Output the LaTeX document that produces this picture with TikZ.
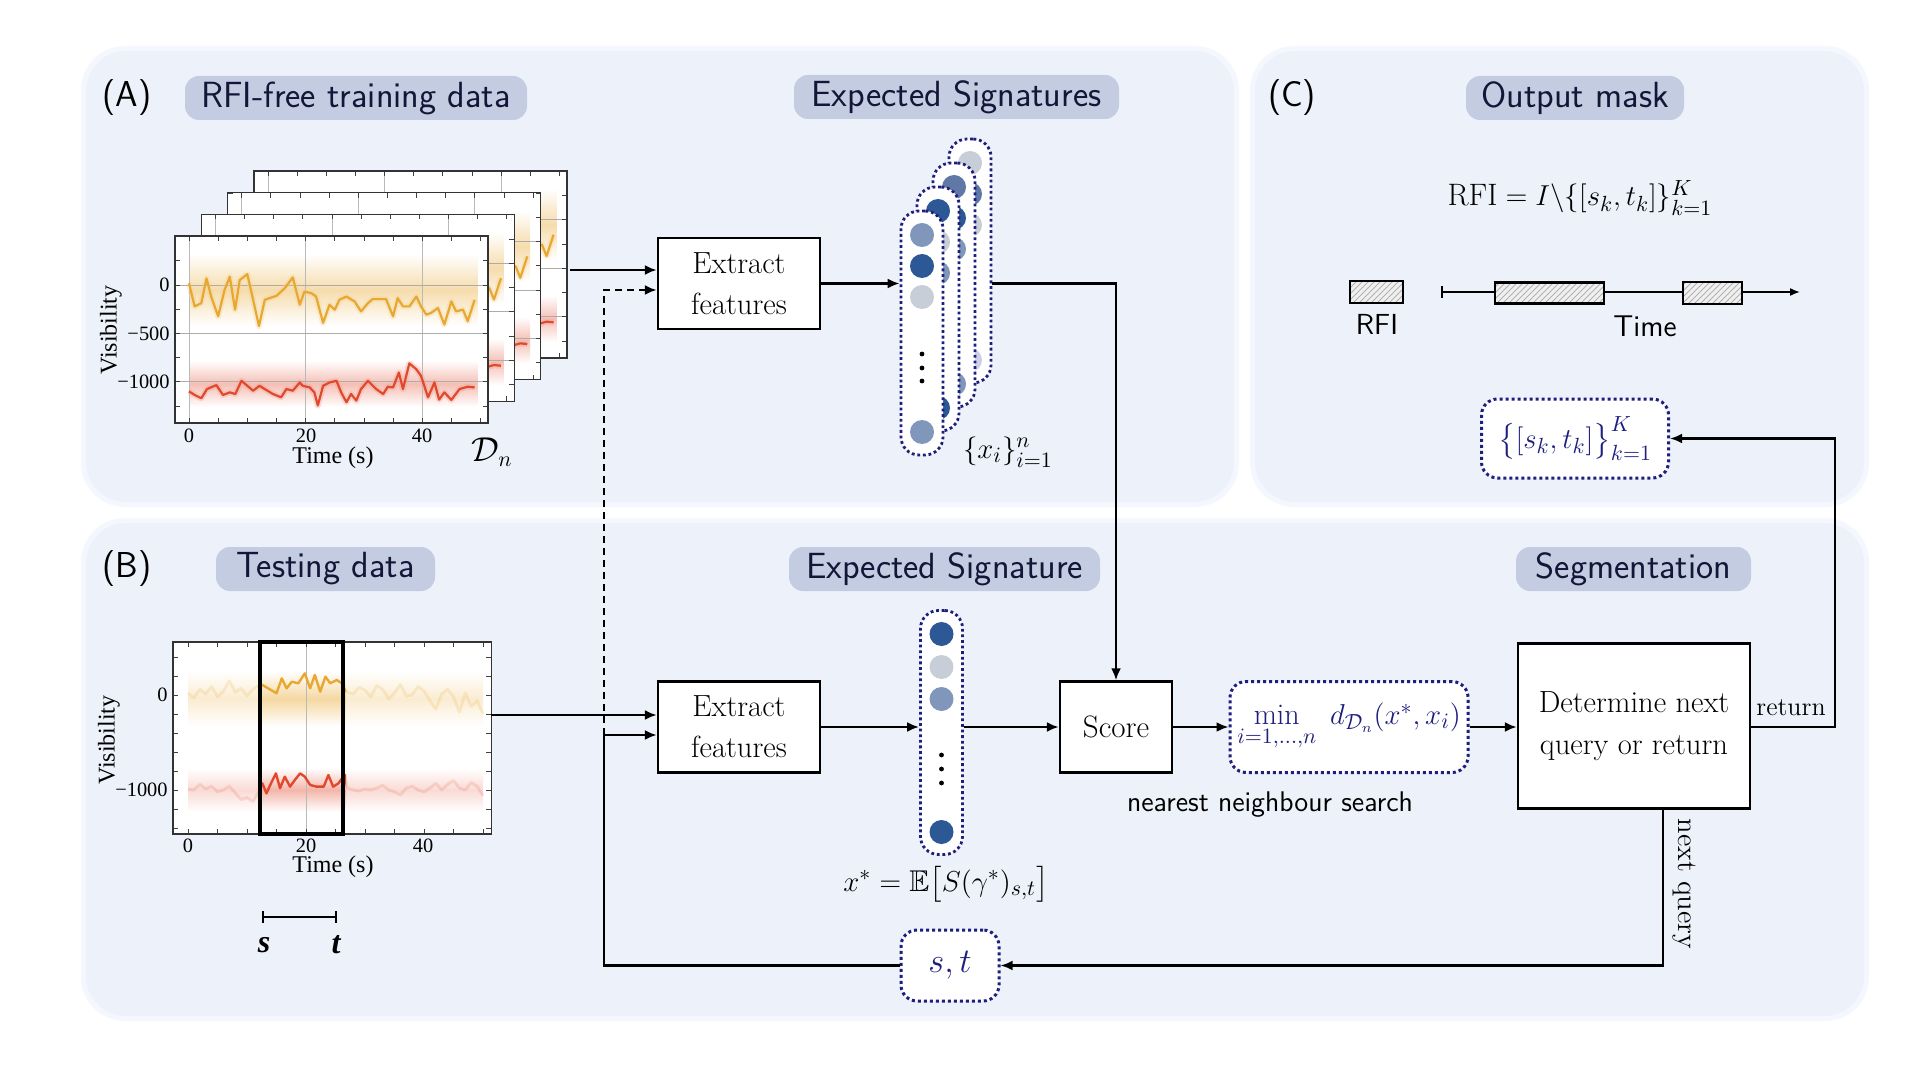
\documentclass[tikz,border=0pt]{standalone}
\usepackage{amsmath,amssymb}
\usepackage{fontspec}
\newfontfamily\tmsf{Liberation Serif}
\usetikzlibrary{arrows.meta,patterns,calc}
\definecolor{panelbg}{RGB}{237,241,250}
\definecolor{panelhalo}{RGB}{244,247,253}
\definecolor{pillbg}{RGB}{196,204,226}
\definecolor{pilltxt}{RGB}{18,22,55}
\definecolor{navy}{RGB}{30,30,125}
\definecolor{dkblue}{RGB}{45,88,150}
\definecolor{mdblue}{RGB}{128,150,186}
\definecolor{mdblueb}{RGB}{95,120,165}
\definecolor{ltgray}{RGB}{200,206,216}
\definecolor{lav}{RGB}{205,208,232}
\definecolor{ylw}{RGB}{232,168,48}
\definecolor{rd}{RGB}{226,72,44}
\tikzset{
  panel/.style={fill=panelbg, rounded corners=20pt},
  halo/.style={fill=panelhalo, rounded corners=22pt},
  pill/.style={fill=pillbg, rounded corners=7pt, text=pilltxt, font=\sffamily\fontsize{18.2}{21}\selectfont, minimum height=22pt, inner sep=0pt},
  plab/.style={font=\sffamily\fontsize{18}{21}\selectfont, text=black},
  box/.style={draw=black, line width=1.2pt, fill=white, align=center, font=\fontsize{15.3}{20.5}\selectfont, inner sep=0pt},
  dbox/.style={draw=navy, line width=1.5pt, dash pattern=on 1.5pt off 1.5pt, fill=white, rounded corners=8pt, text=navy, inner sep=0pt, font=\fontsize{15}{18}\selectfont},
  sigpill/.style={draw=navy, line width=1.4pt, dash pattern=on 1.4pt off 1.4pt, fill=white, rounded corners=9pt, minimum width=21pt, minimum height=122pt, inner sep=0pt},
  conn/.style={line width=1.2pt, draw=black},
  arr/.style={conn, -{Latex[length=6pt,width=5pt]}},
  darr/.style={arr, dash pattern=on 3.5pt off 2.5pt},
  tick/.style={font=\tmsf\fontsize{10.2}{12}\selectfont, inner sep=1pt},
  alab/.style={font=\tmsf\fontsize{12}{14}\selectfont, inner sep=1pt},
  dot/.style={circle, inner sep=0pt, minimum size=12pt},
  hatch/.style={draw=black, line width=1.2pt, preaction={fill=gray!12}, pattern=north east lines, pattern color=gray!60, inner sep=0pt},
  tk/.style={line width=0.4pt, draw=gray!50!black},
}
\begin{document}
\begin{tikzpicture}[x=0.5pt,y=-0.5pt]
\useasboundingbox (0,0) rectangle (1920,1080);
\fill[white] (0,0) rectangle (1920,1080);

% ---------- panels ----------
\fill[halo] (81,46) rectangle (1239,507);
\fill[halo] (1250,46) rectangle (1869,507);
\fill[halo] (81,518) rectangle (1869,1021);
\fill[panel] (86,51) rectangle (1234,502);
\fill[panel] (1255,51) rectangle (1864,502);
\fill[panel] (86,523) rectangle (1864,1016);

% ---------- headers ----------
\node[plab] (labA) at (127,98) {(A)};
\node[plab] (labB) at (127,569) {(B)};
\node[plab] (labC) at (1292,98) {(C)};
\node[pill, minimum width=171pt] (hA) at (356,98) {RFI-free training data};
\node[pill, minimum width=162.5pt] (hSig) at (956.5,97) {Expected Signatures};
\node[pill, minimum width=109pt] (hC) at (1575,98) {Output mask};
\node[pill, minimum width=109.5pt] (hB) at (325.5,569) {Testing data};
\node[pill, minimum width=155.5pt] (hSig2) at (944.5,569) {Expected Signature};
\node[pill, minimum width=117.5pt] (hSeg) at (1633.5,569) {Segmentation};

% ---------- chart stack (A) ----------
\foreach \k in {3,2,1,0}{
 \begin{scope}[shift={(26.3*\k,-21.7*\k)}]
 \begin{scope}[shift={(189,285)}, x=2.915pt, y=0.0484pt]
  \fill[white] (-2.4,506) rectangle (51.3,-1426);
  \begin{scope}
   \clip (-2.4,506) rectangle (51.3,-1426);
   \shade[top color=white, bottom color=white, middle color=ylw!40] (0,320) rectangle (49.5,-420);
   \shade[top color=white, bottom color=white, middle color=rd!35] (0,-780) rectangle (49.5,-1260);
   \foreach \g in {0,20,40} \draw[gray!55, line width=0.4pt] (\g,506) -- (\g,-1426);
   \foreach \g in {0,-500,-1000} \draw[gray!65, line width=0.4pt] (-2.4,\g) -- (51.3,\g);
   \draw[ylw!50, line width=3pt, opacity=0.35, line join=round] plot coordinates {(0,17) (0.97,-221) (2.11,-187) (3.0,68) (3.8,-119) (5.0,-323) (6.1,-51) (7.0,85) (7.9,-255) (8.7,51) (10.0,112) (11.0,-153) (12.0,-425) (13.0,-153) (13.8,-136) (15.0,-112) (16.4,-34) (17.8,78) (19.0,-204) (19.8,-68) (21.0,-85) (21.8,-119) (23.0,-391) (24.1,-204) (25.0,-255) (25.8,-153) (27.0,-119) (28.4,-170) (29.5,-272) (30.7,-187) (31.5,-146) (33.0,-146) (33.8,-146) (35.0,-323) (35.8,-136) (36.7,-221) (37.8,-221) (39.0,-119) (39.8,-221) (40.7,-306) (41.5,-289) (42.7,-238) (43.8,-408) (45.0,-170) (45.8,-272) (47.0,-255) (47.8,-374) (49.0,-153)};
   \draw[ylw, line width=1.1pt, line join=round] plot coordinates {(0,17) (0.97,-221) (2.11,-187) (3.0,68) (3.8,-119) (5.0,-323) (6.1,-51) (7.0,85) (7.9,-255) (8.7,51) (10.0,112) (11.0,-153) (12.0,-425) (13.0,-153) (13.8,-136) (15.0,-112) (16.4,-34) (17.8,78) (19.0,-204) (19.8,-68) (21.0,-85) (21.8,-119) (23.0,-391) (24.1,-204) (25.0,-255) (25.8,-153) (27.0,-119) (28.4,-170) (29.5,-272) (30.7,-187) (31.5,-146) (33.0,-146) (33.8,-146) (35.0,-323) (35.8,-136) (36.7,-221) (37.8,-221) (39.0,-119) (39.8,-221) (40.7,-306) (41.5,-289) (42.7,-238) (43.8,-408) (45.0,-170) (45.8,-272) (47.0,-255) (47.8,-374) (49.0,-153)};
   \draw[rd!50, line width=3pt, opacity=0.35, line join=round] plot coordinates {(0,-1099) (0.97,-1136) (2.11,-1170) (3.09,-1075) (4.69,-1034) (5.83,-1136) (7.0,-1109) (7.94,-1126) (9.0,-990) (10.0,-1041) (11.0,-1092) (12.1,-1041) (13.0,-1075) (14.4,-1126) (15.8,-1160) (16.7,-1075) (17.8,-1092) (19.0,-1007) (19.5,-1041) (20.7,-1058) (21.5,-1109) (22.1,-1245) (23.0,-1041) (24.1,-1007) (25.3,-990) (26.1,-1109) (27.0,-1211) (27.8,-1126) (28.7,-1194) (29.5,-1075) (30.7,-990) (32.1,-1075) (33.3,-1126) (34.1,-1051) (35.0,-1058) (36.0,-905) (36.7,-1075) (37.8,-810) (39.0,-871) (39.8,-939) (41.0,-1160) (42.1,-1007) (42.9,-1184) (43.8,-1109) (45.0,-1187) (46.4,-1075) (47.8,-1051) (49.0,-1058)};
   \draw[rd, line width=1.1pt, line join=round] plot coordinates {(0,-1099) (0.97,-1136) (2.11,-1170) (3.09,-1075) (4.69,-1034) (5.83,-1136) (7.0,-1109) (7.94,-1126) (9.0,-990) (10.0,-1041) (11.0,-1092) (12.1,-1041) (13.0,-1075) (14.4,-1126) (15.8,-1160) (16.7,-1075) (17.8,-1092) (19.0,-1007) (19.5,-1041) (20.7,-1058) (21.5,-1109) (22.1,-1245) (23.0,-1041) (24.1,-1007) (25.3,-990) (26.1,-1109) (27.0,-1211) (27.8,-1126) (28.7,-1194) (29.5,-1075) (30.7,-990) (32.1,-1075) (33.3,-1126) (34.1,-1051) (35.0,-1058) (36.0,-905) (36.7,-1075) (37.8,-810) (39.0,-871) (39.8,-939) (41.0,-1160) (42.1,-1007) (42.9,-1184) (43.8,-1109) (45.0,-1187) (46.4,-1075) (47.8,-1051) (49.0,-1058)};
  \end{scope}
  \foreach \t in {0,5,...,50}{
    \draw[tk] (\t,-1426) -- ++(0pt,2.5pt);
    \draw[tk] (\t,506) -- ++(0pt,-2.5pt);
  }
  \foreach \v in {-1250,-1000,...,500}{
    \draw[tk] (-2.4,\v) -- ++(2.5pt,0pt);
    \draw[tk] (51.3,\v) -- ++(-2.5pt,0pt);
  }
  \draw[line width=0.6pt, draw=gray!40!black] (-2.4,506) rectangle (51.3,-1426);
 \end{scope}
 \end{scope}
}
\node[tick, anchor=east] (ya0) at (172,285) {0};
\node[tick, anchor=east] (ya1) at (172,334) {−500};
\node[tick, anchor=east] (ya2) at (172,382) {−1000};
\node[tick] (xa0) at (189,436) {0};
\node[tick] (xa1) at (306,436) {20};
\node[tick] (xa2) at (422,436) {40};
\node[alab] (tA) at (333,458) {Time (s)};
\node[alab, rotate=90] (vA) at (111,330) {Visibility};
\node[font=\fontsize{16}{18}\selectfont] (Dn) at (492,452) {$\mathcal{D}_n$};

% ---------- chart (B) ----------
\begin{scope}[shift={(188,695)}, x=2.95pt, y=0.0475pt]
  \fill[white] (-2.54,558) rectangle (51.4,-1463);
  \begin{scope}
   \clip (-2.54,558) rectangle (51.4,-1463);
   \shade[top color=white, bottom color=white, middle color=ylw!22] (0,250) rectangle (50,-330);
   \shade[top color=white, bottom color=white, middle color=rd!20] (0,-770) rectangle (50,-1230);
   \draw[gray!55, line width=0.4pt] (20,558) -- (20,-1463);
   \draw[ylw, line width=1.4pt, opacity=0.18, line join=round] plot coordinates {(0,20) (1,-30) (2,60) (3,10) (4,90) (5,-20) (6,40) (7,150) (8,30) (9,70) (10,-10) (11,60) (12,100) (12.6,105) (13.6,70) (15.0,18) (15.9,175) (16.7,70) (17.6,140) (18.7,123) (19.8,228) (20.7,70) (21.5,211) (22.4,35) (23.3,193) (24.1,123) (25.2,158) (26.1,123) (26.6,53) (27,30) (28,10) (29,80) (30,50) (31,-20) (32,100) (33,60) (34,-40) (35,20) (36,110) (37,-10) (38,0) (39,90) (40,40) (41,-60) (42,-150) (43,10) (44,60) (45,-20) (46,-180) (47,20) (48,-120) (49,-60) (50,-200)};
   \draw[rd, line width=1.4pt, opacity=0.15, line join=round] plot coordinates {(0,-990) (1,-1000) (2,-940) (3,-990) (4,-960) (5,-1020) (6,-1000) (7,-960) (8,-1030) (9,-1100) (10,-1080) (11,-1120) (12,-1020) (12.6,-930) (13.3,-1035) (14.2,-912) (14.9,-825) (15.6,-982) (16.4,-860) (17.3,-965) (18.1,-895) (19.0,-825) (19.8,-860) (20.7,-947) (21.8,-965) (23.0,-965) (23.8,-842) (24.6,-965) (25.5,-930) (26.3,-860) (26.6,-842) (27,-980) (28,-1000) (29,-1010) (30,-990) (31,-1000) (32,-980) (33,-950) (34,-1000) (35,-1020) (36,-1050) (37,-980) (38,-960) (39,-1000) (40,-1020) (41,-980) (42,-930) (43,-1000) (44,-940) (45,-900) (46,-980) (47,-1000) (48,-920) (49,-960) (50,-1060)};
   \clip (12.2,558) rectangle (26.8,-1463);
   \shade[top color=white, bottom color=white, middle color=ylw!45] (0,250) rectangle (50,-330);
   \shade[top color=white, bottom color=white, middle color=rd!40] (0,-770) rectangle (50,-1230);
   \draw[gray!55, line width=0.4pt] (20,558) -- (20,-1463);
   \draw[ylw, line width=1.2pt, line join=round] plot coordinates {(12,100) (12.6,105) (13.6,70) (15.0,18) (15.9,175) (16.7,70) (17.6,140) (18.7,123) (19.8,228) (20.7,70) (21.5,211) (22.4,35) (23.3,193) (24.1,123) (25.2,158) (26.1,123) (26.6,53) (27,30)};
   \draw[rd, line width=1.2pt, line join=round] plot coordinates {(12,-1020) (12.6,-930) (13.3,-1035) (14.2,-912) (14.9,-825) (15.6,-982) (16.4,-860) (17.3,-965) (18.1,-895) (19.0,-825) (19.8,-860) (20.7,-947) (21.8,-965) (23.0,-965) (23.8,-842) (24.6,-965) (25.5,-930) (26.3,-860) (26.6,-842) (27,-980)};
  \end{scope}
  \foreach \t in {0,5,...,50}{
    \draw[tk] (\t,-1463) -- ++(0pt,2.5pt);
    \draw[tk] (\t,558) -- ++(0pt,-2.5pt);
  }
  \foreach \v in {-1400,-1200,...,400}{
    \draw[tk] (-2.54,\v) -- ++(2.5pt,0pt);
    \draw[tk] (51.4,\v) -- ++(-2.5pt,0pt);
  }
  \draw[line width=0.6pt, draw=gray!40!black] (-2.54,558) rectangle (51.4,-1463);
  \draw[line width=2pt] (12.2,558) rectangle (26.3,-1463);
\end{scope}
\node[tick, anchor=east] (yb0) at (170,695) {0};
\node[tick, anchor=east] (yb1) at (170,790) {−1000};
\node[tick] (xb0) at (188,846) {0};
\node[tick] (xb1) at (306,846) {20};
\node[tick] (xb2) at (423,846) {40};
\node[alab] (tB) at (333,867) {Time (s)};
\node[alab, rotate=90] (vB) at (109,740) {Visibility};
% s - t interval
\coordinate (sI) at (263,917);
\coordinate (tI) at (336,917);
\draw[line width=1pt] (sI) -- (tI);
\draw[line width=1pt] ($(sI)+(0,-6)$) -- ($(sI)+(0,6)$);
\draw[line width=1pt] ($(tI)+(0,-6)$) -- ($(tI)+(0,6)$);
\node[font=\tmsf\bfseries\itshape\fontsize{16}{18}\selectfont] (sL) at (264,945) {s};
\node[font=\tmsf\bfseries\itshape\fontsize{16}{18}\selectfont] (tL) at (336,945) {t};

% ---------- boxes ----------
\node[box, minimum width=81pt, minimum height=45.5pt] (exA) at (739,283.5) {Extract\\features};
\node[box, minimum width=81pt, minimum height=45.5pt] (exB) at (739,727) {Extract\\features};
\node[box, minimum width=56pt, minimum height=45.5pt, font=\fontsize{15.5}{18}\selectfont] (score) at (1116,727) {Score};
\node[box, minimum width=116pt, minimum height=82.5pt, font=\fontsize{15.3}{21}\selectfont] (det) at (1634,726) {Determine next\\query or return};
\node[dbox, minimum width=119pt, minimum height=45.5pt] (minbox) at (1349,727) {$\min\limits_{i=1,\dots,n}\ d_{\mathcal{D}_n}(x^*,x_i)$};
\node[dbox, minimum width=93.5pt, minimum height=39.5pt] (outbox) at (1575,438.5) {$\big\{[s_k,t_k]\big\}_{k=1}^{K}$};
\node[dbox, minimum width=49pt, minimum height=35.5pt, font=\fontsize{17}{20}\selectfont] (stbox) at (950,965.5) {$s,t$};

% ---------- signature pills (A) ----------
\foreach \k/\ca/\cb/\cc/\cd in {3/ltgray/mdblueb/ltgray/lav, 2/mdblueb/dkblue/mdblue/mdblue, 1/dkblue/ltgray/mdblue/dkblue, 0/mdblue/dkblue/ltgray/mdblue}{
  \node[sigpill] (sigA\k) at (922+16*\k,333-24*\k) {};
  \node[dot, fill=\ca] at (922+16*\k,235-24*\k) {};
  \node[dot, fill=\cb] at (922+16*\k,266-24*\k) {};
  \node[dot, fill=\cc] at (922+16*\k,297-24*\k) {};
  \node[dot, fill=\cd] at (922+16*\k,432-24*\k) {};
  \foreach \d in {354,368,381} \fill[black] (922+16*\k,\d-24*\k) circle (1.2pt);
}
\node[font=\fontsize{15}{18}\selectfont] (xiLab) at (1008,452) {$\{x_i\}_{i=1}^{n}$};

% ---------- signature pill (B) ----------
\node[sigpill] (sigB) at (941.5,732.5) {};
\node[dot, fill=dkblue] at (941.5,634) {};
\node[dot, fill=ltgray] at (941.5,667) {};
\node[dot, fill=mdblue] at (941.5,699) {};
\node[dot, fill=dkblue] at (941.5,832) {};
\foreach \d in {755,769,783} \fill[black] (941.5,\d) circle (1.2pt);
\node[font=\fontsize{15}{18}\selectfont] (xstar) at (946,884) {$x^* = \mathbb{E}\big[S(\gamma^*)_{s,t}\big]$};

% ---------- panel C ----------
\node[font=\fontsize{15.5}{18}\selectfont] (rfiEq) at (1580,198) {$\mathrm{RFI} = I\backslash\{[s_k,t_k]\}_{k=1}^{K}$};
\node[hatch, minimum width=26.5pt, minimum height=11pt] (legBox) at (1376.5,292) {};
\node[font=\sffamily\fontsize{14.5}{17}\selectfont] (legLab) at (1377,324) {RFI};
\coordinate (axS) at (1441,292);
\coordinate (axE) at (1800,292);
\draw[line width=0.8pt, {Bar[width=6pt]}-{Latex[length=5pt,width=4pt]}] (axS) -- (axE);
\node[hatch, minimum width=54.5pt, minimum height=10.5pt] (rfi1) at (1549.5,293) {};
\node[hatch, minimum width=29.5pt, minimum height=11pt] (rfi2) at (1712.5,293) {};
\node[font=\sffamily\fontsize{15}{17}\selectfont] (timeLab) at (1645,326) {Time};

% ---------- connectors ----------
\coordinate (chartA) at (570,270);
\coordinate (chartB) at (491,715);
\coordinate (jn) at (604,735);
\coordinate (dj) at (604,290);
\draw[arr] (chartA) -- (chartA -| exA.west);
\draw[darr] (jn) -- (dj) -- (dj -| exA.west);
\draw[arr] (chartB) -- (chartB -| exB.west);
\draw[arr] (stbox.west) -| (jn) -- (jn -| exB.west);
\draw[arr] (exA.east) -- (exA.east -| sigA0.west);
\draw[arr] (sigA3.east |- exA.east) -| (score.north);
\draw[arr] (exB.east) -- (exB.east -| sigB.west);
\draw[arr] (sigB.east |- score.west) -- (score.west);
\draw[arr] (score.east) -- (minbox.west);
\draw[arr] (minbox.east) -- (minbox.east -| det.west);
\draw[arr] (det.east |- minbox.east) -- ++(84,0) |- (outbox.east);
\draw[arr] ($(det.south)+(29,0)$) |- (stbox.east);
\node[font=\fontsize{13}{15}\selectfont] (retLab) at (1791,708) {return};
\node[font=\fontsize{14.2}{16}\selectfont, rotate=-90] (nqLab) at (1684,884) {next query};
\node[font=\sffamily\fontsize{14.2}{17}\selectfont] (nnLab) at (1270,805) {nearest neighbour search};
\end{tikzpicture}
\end{document}
